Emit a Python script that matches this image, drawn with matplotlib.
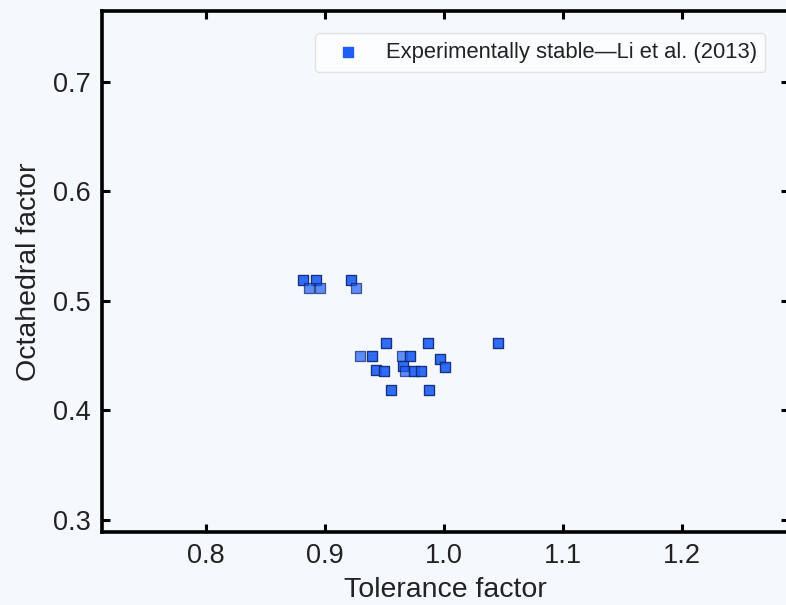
import matplotlib
matplotlib.use("Agg")
import matplotlib.pyplot as plt

plt.rcParams['font.family'] = ['Liberation Sans', 'DejaVu Sans']

# Goldschmidt tolerance factor / octahedral factor of experimentally stable
# halide perovskites (Li et al., 2013); repeated entries are distinct compounds
# sharing the same factors.
tolerance = [0.8818, 0.8818, 0.8922, 0.8922, 0.8863, 0.8960, 0.9221, 0.9221,
             0.9263, 0.9513, 0.9513, 0.9863, 0.9863, 1.0454, 1.0454, 0.9294,
             0.9397, 0.9397, 0.9645, 0.9714, 0.9714, 0.9964, 0.9964, 1.0011,
             1.0011, 0.9429, 0.9429, 0.9493, 0.9493, 0.9655, 0.9655, 0.9672,
             0.9748, 0.9748, 0.9807, 0.9807, 0.9555, 0.9555, 0.9876, 0.9876]
octahedral = [0.519, 0.519, 0.519, 0.519, 0.5118, 0.5118, 0.519, 0.519,
              0.5118, 0.4619, 0.4619, 0.4619, 0.4619, 0.4619, 0.4619, 0.4497,
              0.4497, 0.4497, 0.4497, 0.4497, 0.4497, 0.4473, 0.4473, 0.440,
              0.440, 0.437, 0.437, 0.4358, 0.4358, 0.4406, 0.4406, 0.4358,
              0.4363, 0.4363, 0.4358, 0.4358, 0.4187, 0.4187, 0.4187, 0.4187]
series_label = "Experimentally stable\u2014Li et al. (2013)"
x_ticks = [0.8, 0.9, 1.0, 1.1, 1.2]
y_ticks = [0.3, 0.4, 0.5, 0.6, 0.7]

bg = '#f5f8fd'
fig = plt.figure(figsize=(7.86, 6.05), dpi=100, facecolor=bg)
ax = fig.add_axes([0.1298, 0.1207, 0.8740, 0.8611])
ax.set_facecolor(bg)

ax.scatter(tolerance, octahedral, marker='s', s=50, facecolor='#1f5ef5',
           edgecolor='#0b2466', linewidth=0.9, alpha=0.7, zorder=3)
# legend proxy in full colour
ax.scatter([], [], marker='s', s=50, color='#1f5ef5', label=series_label)

ax.set_xlim(0.7126, 1.2899)
ax.set_ylim(0.2891, 0.7645)
ax.set_xticks(x_ticks)
ax.set_yticks(y_ticks)
ax.set_xticklabels([f"{v:.1f}" for v in x_ticks])
ax.set_yticklabels([f"{v:.1f}" for v in y_ticks])

for sp in ax.spines.values():
    sp.set_linewidth(2.6)
    sp.set_color('black')
ax.tick_params(direction='in', length=6, width=2.2, labelsize=19.5,
               top=True, right=True, pad=8, colors='black', labelcolor='#222222')

ax.set_xlabel("Tolerance factor", fontsize=20.5, color='#222222', labelpad=6)
ax.set_ylabel("Octahedral factor", fontsize=20.5, color='#222222', labelpad=8)

leg = ax.legend(loc='upper right', fontsize=15.8, frameon=True, fancybox=True,
                borderpad=0.4, handletextpad=0.6, handlelength=2.2,
                borderaxespad=0.0, bbox_to_anchor=(0.9657, 0.957))
leg.get_frame().set_facecolor('white')
leg.get_frame().set_edgecolor('#dddddd')
leg.get_frame().set_linewidth(1.0)
for t in leg.get_texts():
    t.set_color('#222222')

fig.savefig("out.png", dpi=100, facecolor=bg)
